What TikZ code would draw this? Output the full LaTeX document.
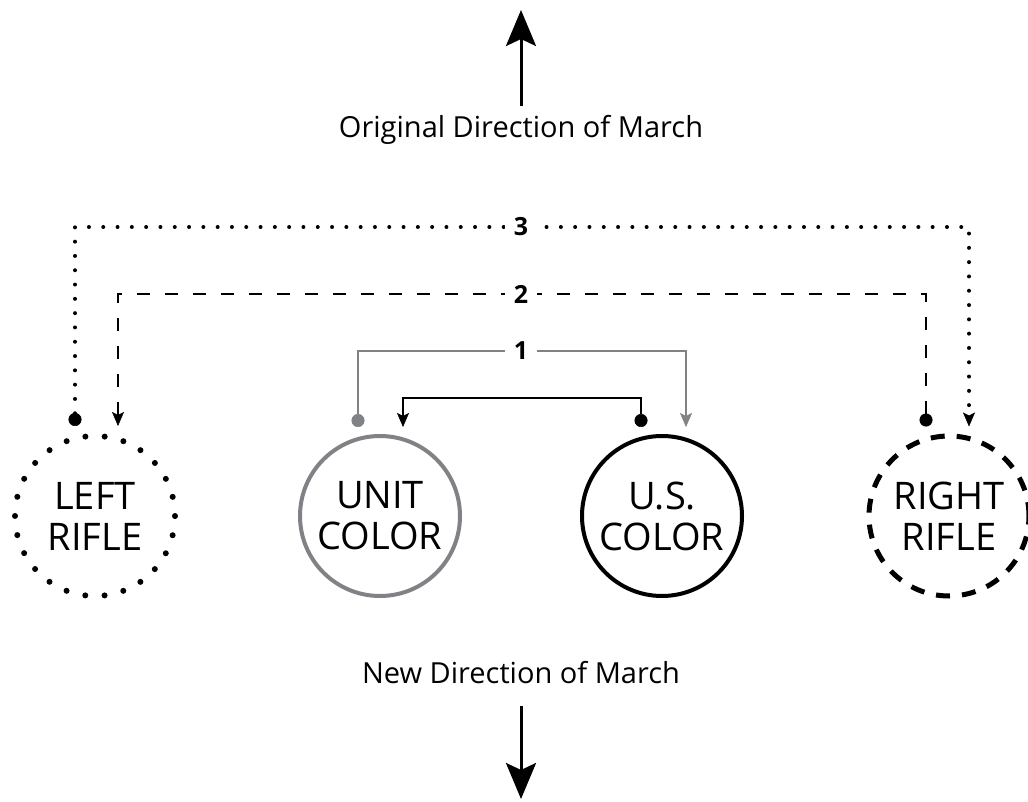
\documentclass[tikz,border=0pt]{standalone}
\usepackage{fontspec}
\setmainfont{Open Sans}
\usepackage{tikz}
\usetikzlibrary{arrows.meta, positioning, calc}
\definecolor{mygray}{RGB}{128,130,133}
\definecolor{mydark}{RGB}{0,0,0}
\tikzset{
  ring/.style={circle, minimum size=160pt, inner sep=0pt, align=center,
    font=\fontsize{38}{41}\selectfont},
  dotring/.style={ring, draw=mydark, line width=6pt, line cap=round,
    dash pattern=on 0pt off 19.33pt},
  dashring/.style={ring, draw=mydark, line width=5pt, dash pattern=on 14pt off 12pt},
  grayring/.style={ring, draw=mygray, line width=4pt},
  blackring/.style={ring, draw=mydark, line width=4pt},
  link/.style={{Circle[length=13pt, line width=0.5pt]}-{Stealth[length=14pt, width=12pt, inset=3pt, line width=0.5pt]}},
  dotline/.style={link, color=mydark, line width=4pt, line cap=round,
    dash pattern=on 0pt off 14.3pt},
  dashline/.style={link, color=mydark, line width=2.5pt, dash pattern=on 13pt off 15pt},
  grayline/.style={link, color=mygray, line width=2pt},
  blackline/.style={link, color=mydark, line width=2pt},
  numlabel/.style={fill=white, inner xsep=9pt, inner ysep=2pt,
    font=\fontsize{25}{26}\selectfont\bfseries},
  bigarrow/.style={-{Stealth[length=36pt, width=30pt, inset=7pt]}, line width=3pt, color=mydark},
  dirlabel/.style={inner sep=0pt, text height=22pt, text depth=6pt,
    font=\fontsize{29}{34}\selectfont}
}
\begin{document}
\begin{tikzpicture}[x=1pt, y=-1pt]
  \useasboundingbox (0,0) rectangle (1028,802);

  % the four bearers
  \node[dotring]   (leftr)  at (95,516)  {LEFT\\RIFLE};
  \node[grayring]  (unitc)  at (380,516) {UNIT\\COLOR};
  \node[blackring] (usc)    at (662,516) {U.S.\\COLOR};
  \node[dashring]  (rightr) at (949,516) {RIGHT\\RIFLE};

  % directions of march
  \node[dirlabel, anchor=base] (orig) at (521,138) {Original Direction of March};
  \coordinate (origtip) at (521,10);
  \draw[bigarrow] ([yshift=10pt]orig.north) -- (origtip);

  \node[dirlabel, anchor=base] (new) at (521,683) {New Direction of March};
  \coordinate (newtip) at (521,799);
  \draw[bigarrow] ([yshift=-17pt]new.south) -- (newtip);

  % moves
  \coordinate (mid3) at (521,227);
  \coordinate (mid2) at (521,294);
  \coordinate (mid1) at (521,351);
  \coordinate (mid0) at (521,398);

  \draw[dotline] ([xshift=-20pt,yshift=7pt]leftr.north) |- (mid3)
    -| ([xshift=20pt,yshift=7pt]rightr.north);
  \draw[dashline] ([xshift=-23pt,yshift=7pt]rightr.north) |- (mid2)
    -| ([xshift=23pt,yshift=7pt]leftr.north);
  \draw[grayline] ([xshift=-22pt,yshift=7pt]unitc.north) |- (mid1)
    -| ([xshift=24pt,yshift=7pt]usc.north);
  \draw[blackline] ([xshift=-21pt,yshift=7pt]usc.north) |- (mid0)
    -| ([xshift=23pt,yshift=7pt]unitc.north);

  \node[numlabel] (n3) at (mid3) {3};
  \node[numlabel] (n2) at (mid2) {2};
  \node[numlabel] (n1) at (mid1) {1};
\end{tikzpicture}
\end{document}
